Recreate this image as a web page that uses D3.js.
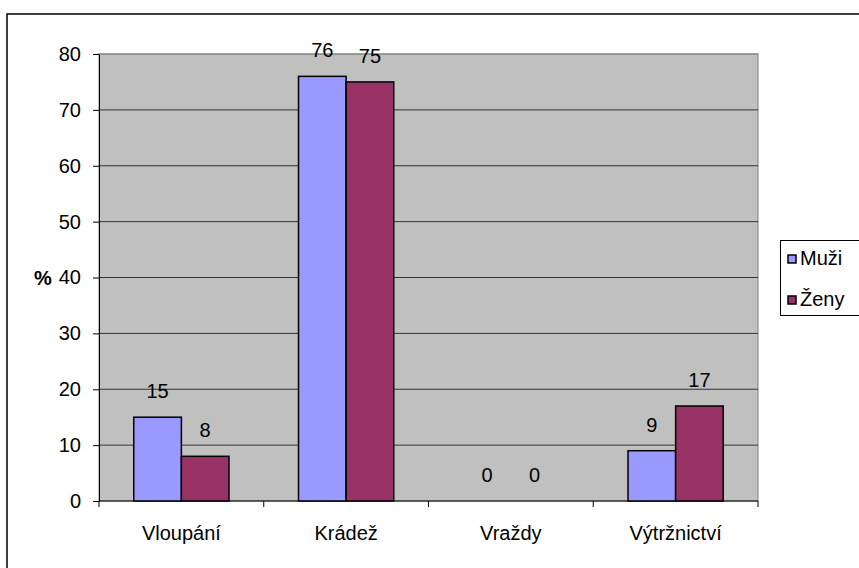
<!DOCTYPE html>
<html>
<head>
<meta charset="utf-8">
<script src="https://cdn.jsdelivr.net/npm/d3@7"></script>
<style>
  body { margin: 0; background: #fff; }
  text { font-family: "Liberation Sans", Arial, sans-serif; fill: #000; }
</style>
</head>
<body>
<div id="chart"></div>
<script>
// chart values
var categories = ["Vloupání", "Krádež", "Vraždy", "Výtržnictví"];
var seriesNames = ["Muži", "Ženy"];
var muzi = [15, 76, 0, 9];
var zeny = [8, 75, 0, 17];
var yTicks = [0, 10, 20, 30, 40, 50, 60, 70, 80];
var colors = ["#9999ff", "#993366"];

var width = 859, height = 568;
var plot = {left: 99, top: 54, right: 758, bottom: 501};
var fs = "20px";

var svg = d3.select("#chart").append("svg")
    .attr("width", width)
    .attr("height", height);

// outer frame (runs off the right and bottom edge)
svg.append("rect")
    .attr("x", 7).attr("y", 14)
    .attr("width", 900).attr("height", 600)
    .attr("fill", "#fff")
    .attr("stroke", "#000")
    .attr("stroke-width", 1.5);

var x0 = d3.scaleBand()
    .domain(categories)
    .range([plot.left, plot.right])
    .paddingInner(0)
    .paddingOuter(0);

var x1 = d3.scaleBand()
    .domain(seriesNames)
    .range([0, x0.bandwidth()])
    .paddingInner(0)
    .paddingOuter(0.73);

var y = d3.scaleLinear()
    .domain([0, 80])
    .range([plot.bottom, plot.top]);

// plot background
svg.append("rect")
    .attr("x", plot.left).attr("y", plot.top)
    .attr("width", plot.right - plot.left)
    .attr("height", plot.bottom - plot.top)
    .attr("fill", "#c0c0c0")
    .attr("stroke", "#808080")
    .attr("stroke-width", 1);

// gridlines
svg.append("g")
  .selectAll("line")
  .data(yTicks.filter(function(d){ return d > 0; }))
  .join("line")
    .attr("x1", plot.left).attr("x2", plot.right)
    .attr("y1", function(d){ return y(d); })
    .attr("y2", function(d){ return y(d); })
    .attr("stroke", function(d){ return d === 80 ? "#808080" : "#333"; })
    .attr("stroke-width", 1);

// y axis
var yAxis = svg.append("g")
    .attr("transform", "translate(" + plot.left + ",0)")
    .call(d3.axisLeft(y).tickValues(yTicks).tickSize(6).tickPadding(12).tickSizeOuter(0));
yAxis.select(".domain").attr("stroke", "#000");
yAxis.selectAll(".tick line").attr("stroke", "#000");
yAxis.selectAll("text").style("font-size", fs).attr("fill", "#000")
    .style("font-family", "'Liberation Sans', Arial, sans-serif");

// x axis
var xTickPos = d3.range(categories.length + 1).map(function(i){ return plot.left + i * x0.step(); });
var xAxis = svg.append("g");
xAxis.append("line")
    .attr("x1", plot.left).attr("x2", plot.right)
    .attr("y1", plot.bottom).attr("y2", plot.bottom)
    .attr("stroke", "#000");
xAxis.selectAll("line.tk")
  .data(xTickPos)
  .join("line")
    .attr("class", "tk")
    .attr("x1", function(d){ return d; }).attr("x2", function(d){ return d; })
    .attr("y1", plot.bottom).attr("y2", plot.bottom + 6)
    .attr("stroke", "#000");
xAxis.selectAll("text")
  .data(categories)
  .join("text")
    .attr("x", function(d){ return x0(d) + x0.bandwidth() / 2; })
    .attr("y", 540)
    .attr("text-anchor", "middle")
    .style("font-size", fs)
    .text(function(d){ return d; });

// % label
svg.append("text")
    .attr("x", 43).attr("y", 285)
    .attr("text-anchor", "middle")
    .style("font-size", fs)
    .style("font-weight", "bold")
    .text("%");

// bars
var rows = categories.map(function(c, i){
  return {cat: c, vals: [{s: seriesNames[0], v: muzi[i], c: colors[0]}, {s: seriesNames[1], v: zeny[i], c: colors[1]}]};
});

var groups = svg.append("g").selectAll("g")
  .data(rows)
  .join("g")
    .attr("transform", function(d){ return "translate(" + x0(d.cat) + ",0)"; });

groups.selectAll("rect")
  .data(function(d){ return d.vals.filter(function(v){ return v.v > 0; }); })
  .join("rect")
    .attr("x", function(d){ return x1(d.s); })
    .attr("y", function(d){ return y(d.v); })
    .attr("width", x1.bandwidth())
    .attr("height", function(d){ return plot.bottom - y(d.v); })
    .attr("fill", function(d){ return d.c; })
    .attr("stroke", "#000")
    .attr("stroke-width", 1.5);

groups.selectAll("text")
  .data(function(d){ return d.vals; })
  .join("text")
    .attr("x", function(d){ return x1(d.s) + x1.bandwidth() / 2; })
    .attr("y", function(d){ return y(d.v) - 19; })
    .attr("text-anchor", "middle")
    .style("font-size", fs)
    .text(function(d){ return d.v; });

// legend
var legend = svg.append("g");
legend.append("rect")
    .attr("x", 780.5).attr("y", 240.5)
    .attr("width", 100).attr("height", 75)
    .attr("fill", "#fff")
    .attr("stroke", "#000")
    .attr("stroke-width", 1);

var li = legend.selectAll("g")
  .data(seriesNames)
  .join("g")
    .attr("transform", function(d, i){ return "translate(0," + (i * 41) + ")"; });
li.append("rect")
    .attr("x", 788).attr("y", 255)
    .attr("width", 8).attr("height", 8)
    .attr("fill", function(d, i){ return colors[i]; })
    .attr("stroke", "#000")
    .attr("stroke-width", 1.5);
li.append("text")
    .attr("x", 800).attr("y", 265)
    .style("font-size", fs)
    .text(function(d){ return d; });
</script>
</body>
</html>
